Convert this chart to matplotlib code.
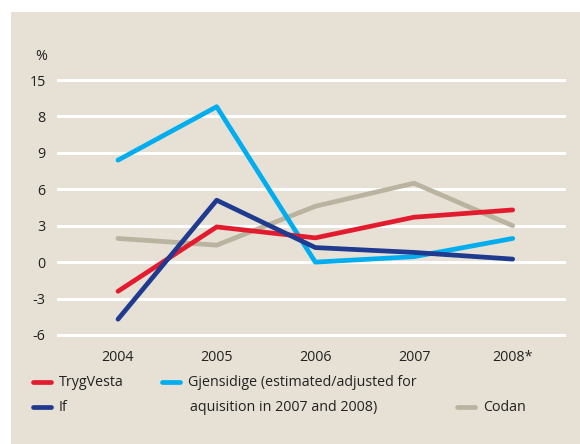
import matplotlib
matplotlib.use('Agg')
import matplotlib.pyplot as plt
from matplotlib.patches import Rectangle
from matplotlib.lines import Line2D

years = ['2004', '2005', '2006', '2007', '2008*']
tryg = [-2.4, 2.9, 2.0, 3.7, 4.3]
gjensidige = [8.4, 12.8, 0.0, 0.45, 1.95]
if_ = [-4.7, 5.1, 1.2, 0.8, 0.25]
codan = [1.95, 1.4, 4.6, 6.5, 3.0]
yticks = [15, 12, 9, 6, 3, 0, -3, -6]
ytick_labels = ['15', '8', '9', '6', '3', '0', '-3', '-6']

bg = '#e6e0d5'
c_tryg = '#e31b2f'
c_gjen = '#00aeef'
c_if = '#1f3a8f'
c_codan = '#bab39f'

plt.rcParams['font.family'] = ['Open Sans', 'DejaVu Sans']
W, H = 580, 444
fs = 10.25
fig = plt.figure(figsize=(W / 100, H / 100), dpi=100, facecolor='white')
fig.add_artist(Rectangle((11 / W, 0), 1, (H - 12) / H, transform=fig.transFigure,
                         facecolor=bg, edgecolor='none', zorder=0))

ax = fig.add_axes([58 / W, (H - 335) / H, 506 / W, 255 / H])
ax.set_facecolor('none')
ax.set_xlim(-0.608, 4.52)
ax.set_ylim(-6, 15)
for v in yticks:
    ax.axhline(v, color='white', lw=2.2, clip_on=False, zorder=1)

x = range(len(years))
lw = 3.4
ax.plot(x, codan, color=c_codan, lw=lw, solid_capstyle='round', zorder=2)
ax.plot(x, gjensidige, color=c_gjen, lw=lw, solid_capstyle='round', zorder=3)
ax.plot(x, tryg, color=c_tryg, lw=lw, solid_capstyle='round', zorder=4)
ax.plot(x, if_, color=c_if, lw=lw, solid_capstyle='round', zorder=5)

for s in ax.spines.values():
    s.set_visible(False)
ax.set_yticks(yticks)
ax.set_yticklabels(ytick_labels)
ax.set_xticks(list(x))
ax.set_xticklabels(years)
ax.tick_params(length=0, labelsize=fs, colors='#222222')
ax.tick_params(axis='y', pad=9)
ax.tick_params(axis='x', pad=11)

fig.text(41 / W, (H - 57) / H, '%', ha='center', va='center', fontsize=fs, color='#222222')

def legend_item(x0, y, color, label):
    yf = (H - y) / H
    fig.add_artist(Line2D([x0 / W, (x0 + 18) / W], [yf, yf], color=color, lw=lw,
                          solid_capstyle='round', transform=fig.transFigure))
    fig.text((x0 + 26) / W, yf, label, ha='left', va='center', fontsize=fs,
             color='#222222')

legend_item(33, 382, c_tryg, 'TrygVesta')
legend_item(33, 407, c_if, 'If')
legend_item(162, 382, c_gjen, 'Gjensidige (estimated/adjusted for')
fig.text(190 / W, (H - 407) / H, 'aquisition in 2007 and 2008)', ha='left', va='center',
         fontsize=fs, color='#222222')
legend_item(457, 407, c_codan, 'Codan')

fig.savefig('out.png', dpi=100, facecolor='white')
